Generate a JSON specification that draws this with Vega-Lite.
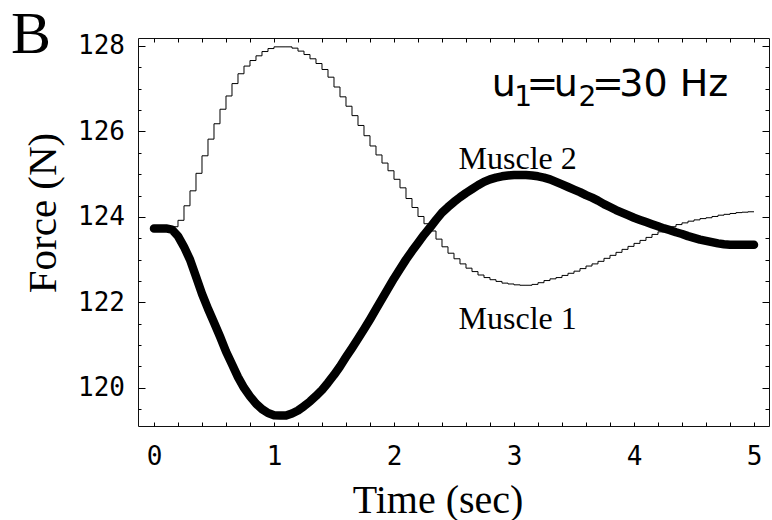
{
  "$schema": "https://vega.github.io/schema/vega-lite/v6.json",
  "width": 631,
  "height": 388,
  "autosize": {"type": "none"},
  "padding": {"left": 138, "top": 38, "right": 3, "bottom": 94},
  "background": "white",
  "config": {
    "view": {"stroke": "#111111", "strokeWidth": 1},
    "axis": {
      "domain": false,
      "grid": false,
      "tickColor": "black",
      "tickWidth": 1,
      "labelFont": "DejaVu Sans Mono",
      "labelFontSize": 26,
      "labelColor": "black",
      "labelFlush": false,
      "labelOverlap": false,
      "titleFont": "Liberation Serif",
      "titleFontSize": 41,
      "titleFontWeight": "normal",
      "titleColor": "black"
    }
  },
  "data": {
    "values": [
      {"t": 0.00, "m1": 123.75, "m2": 123.73},
      {"t": 0.05, "m1": 123.75, "m2": 123.73},
      {"t": 0.10, "m1": 123.75, "m2": 123.73},
      {"t": 0.15, "m1": 123.77, "m2": 123.70},
      {"t": 0.20, "m1": 123.92, "m2": 123.55},
      {"t": 0.25, "m1": 124.26, "m2": 123.30},
      {"t": 0.30, "m1": 124.61, "m2": 123.00},
      {"t": 0.35, "m1": 125.02, "m2": 122.60},
      {"t": 0.40, "m1": 125.43, "m2": 122.20},
      {"t": 0.45, "m1": 125.82, "m2": 121.85},
      {"t": 0.50, "m1": 126.18, "m2": 121.53},
      {"t": 0.55, "m1": 126.52, "m2": 121.20},
      {"t": 0.60, "m1": 126.83, "m2": 120.85},
      {"t": 0.65, "m1": 127.12, "m2": 120.55},
      {"t": 0.70, "m1": 127.35, "m2": 120.25},
      {"t": 0.75, "m1": 127.53, "m2": 120.00},
      {"t": 0.80, "m1": 127.66, "m2": 119.80},
      {"t": 0.85, "m1": 127.77, "m2": 119.63},
      {"t": 0.90, "m1": 127.87, "m2": 119.50},
      {"t": 0.95, "m1": 127.94, "m2": 119.41},
      {"t": 1.00, "m1": 127.98, "m2": 119.36},
      {"t": 1.05, "m1": 127.98, "m2": 119.35},
      {"t": 1.10, "m1": 127.98, "m2": 119.35},
      {"t": 1.15, "m1": 127.95, "m2": 119.40},
      {"t": 1.20, "m1": 127.88, "m2": 119.47},
      {"t": 1.25, "m1": 127.80, "m2": 119.57},
      {"t": 1.30, "m1": 127.70, "m2": 119.68},
      {"t": 1.35, "m1": 127.59, "m2": 119.81},
      {"t": 1.40, "m1": 127.45, "m2": 119.95},
      {"t": 1.45, "m1": 127.27, "m2": 120.12},
      {"t": 1.50, "m1": 127.04, "m2": 120.30},
      {"t": 1.55, "m1": 126.81, "m2": 120.50},
      {"t": 1.60, "m1": 126.59, "m2": 120.72},
      {"t": 1.65, "m1": 126.37, "m2": 120.93},
      {"t": 1.70, "m1": 126.14, "m2": 121.15},
      {"t": 1.75, "m1": 125.90, "m2": 121.37},
      {"t": 1.80, "m1": 125.66, "m2": 121.60},
      {"t": 1.85, "m1": 125.45, "m2": 121.84},
      {"t": 1.90, "m1": 125.26, "m2": 122.08},
      {"t": 1.95, "m1": 125.08, "m2": 122.32},
      {"t": 2.00, "m1": 124.88, "m2": 122.56},
      {"t": 2.05, "m1": 124.68, "m2": 122.78},
      {"t": 2.10, "m1": 124.43, "m2": 123.00},
      {"t": 2.15, "m1": 124.22, "m2": 123.20},
      {"t": 2.20, "m1": 124.01, "m2": 123.39},
      {"t": 2.25, "m1": 123.84, "m2": 123.58},
      {"t": 2.30, "m1": 123.67, "m2": 123.75},
      {"t": 2.35, "m1": 123.48, "m2": 123.93},
      {"t": 2.40, "m1": 123.30, "m2": 124.10},
      {"t": 2.45, "m1": 123.15, "m2": 124.23},
      {"t": 2.50, "m1": 123.02, "m2": 124.35},
      {"t": 2.55, "m1": 122.90, "m2": 124.46},
      {"t": 2.60, "m1": 122.80, "m2": 124.56},
      {"t": 2.65, "m1": 122.72, "m2": 124.65},
      {"t": 2.70, "m1": 122.64, "m2": 124.74},
      {"t": 2.75, "m1": 122.58, "m2": 124.82},
      {"t": 2.80, "m1": 122.53, "m2": 124.88},
      {"t": 2.85, "m1": 122.49, "m2": 124.92},
      {"t": 2.90, "m1": 122.45, "m2": 124.95},
      {"t": 2.95, "m1": 122.43, "m2": 124.97},
      {"t": 3.00, "m1": 122.41, "m2": 124.98},
      {"t": 3.05, "m1": 122.40, "m2": 124.98},
      {"t": 3.10, "m1": 122.40, "m2": 124.98},
      {"t": 3.15, "m1": 122.42, "m2": 124.97},
      {"t": 3.20, "m1": 122.46, "m2": 124.95},
      {"t": 3.25, "m1": 122.51, "m2": 124.92},
      {"t": 3.30, "m1": 122.55, "m2": 124.88},
      {"t": 3.35, "m1": 122.58, "m2": 124.82},
      {"t": 3.40, "m1": 122.63, "m2": 124.76},
      {"t": 3.45, "m1": 122.68, "m2": 124.70},
      {"t": 3.50, "m1": 122.73, "m2": 124.64},
      {"t": 3.55, "m1": 122.79, "m2": 124.58},
      {"t": 3.60, "m1": 122.85, "m2": 124.51},
      {"t": 3.65, "m1": 122.90, "m2": 124.45},
      {"t": 3.70, "m1": 122.96, "m2": 124.38},
      {"t": 3.75, "m1": 123.03, "m2": 124.30},
      {"t": 3.80, "m1": 123.10, "m2": 124.23},
      {"t": 3.85, "m1": 123.17, "m2": 124.16},
      {"t": 3.90, "m1": 123.24, "m2": 124.10},
      {"t": 3.95, "m1": 123.31, "m2": 124.04},
      {"t": 4.00, "m1": 123.38, "m2": 123.98},
      {"t": 4.05, "m1": 123.45, "m2": 123.93},
      {"t": 4.10, "m1": 123.52, "m2": 123.88},
      {"t": 4.15, "m1": 123.59, "m2": 123.83},
      {"t": 4.20, "m1": 123.65, "m2": 123.78},
      {"t": 4.25, "m1": 123.71, "m2": 123.73},
      {"t": 4.30, "m1": 123.77, "m2": 123.69},
      {"t": 4.35, "m1": 123.82, "m2": 123.64},
      {"t": 4.40, "m1": 123.86, "m2": 123.60},
      {"t": 4.45, "m1": 123.90, "m2": 123.55},
      {"t": 4.50, "m1": 123.93, "m2": 123.51},
      {"t": 4.55, "m1": 123.96, "m2": 123.47},
      {"t": 4.60, "m1": 123.98, "m2": 123.44},
      {"t": 4.65, "m1": 124.01, "m2": 123.41},
      {"t": 4.70, "m1": 124.04, "m2": 123.38},
      {"t": 4.75, "m1": 124.06, "m2": 123.36},
      {"t": 4.80, "m1": 124.08, "m2": 123.35},
      {"t": 4.85, "m1": 124.10, "m2": 123.35},
      {"t": 4.90, "m1": 124.11, "m2": 123.35},
      {"t": 4.95, "m1": 124.12, "m2": 123.35},
      {"t": 5.00, "m1": 124.12, "m2": 123.35}
    ]
  },
  "layer": [
    {
      "mark": {"type": "line", "interpolate": "step-after", "color": "black", "strokeWidth": 1},
      "encoding": {
        "x": {
          "field": "t", "type": "quantitative",
          "scale": {"domain": [-0.1333, 5.125], "nice": false, "zero": false},
          "axis": {
            "orient": "bottom",
            "values": [0,0.2,0.4,0.6,0.8,1,1.2,1.4,1.6,1.8,2,2.2,2.4,2.6,2.8,3,3.2,3.4,3.6,3.8,4,4.2,4.4,4.6,4.8,5],
            "tickSize": -4,
            "labelExpr": "datum.value % 1 === 0 ? format(datum.value, 'd') : ''",
            "labelPadding": 21.4,
            "title": "Time (sec)",
            "titleFontSize": 40,
            "titleX": 299.5,
            "titleY": 86,
            "titleAlign": "center",
            "titleBaseline": "alphabetic"
          }
        },
        "y": {
          "field": "m1", "type": "quantitative",
          "scale": {"domain": [119.106, 128.187], "nice": false, "zero": false},
          "axis": {
            "orient": "left",
            "values": [119.5,120,120.5,121,121.5,122,122.5,123,123.5,124,124.5,125,125.5,126,126.5,127,127.5,128],
            "tickSize": {"condition": {"test": "datum.value % 2 === 0", "value": -7}, "value": -3},
            "labelExpr": "datum.value % 2 === 0 ? format(datum.value, 'd') : ''",
            "labelPadding": 20.5,
            "title": "Force (N)",
            "titleAngle": -90,
            "titleX": -83,
            "titleY": 174.5,
            "titleAlign": "center",
            "titleBaseline": "alphabetic"
          }
        }
      }
    },
    {
      "mark": {"type": "line", "color": "black", "strokeWidth": 8.5, "strokeCap": "round", "strokeJoin": "round"},
      "encoding": {
        "x": {
          "field": "t", "type": "quantitative",
          "scale": {"domain": [-0.1333, 5.125], "nice": false, "zero": false},
          "axis": {
            "orient": "top",
            "values": [0,0.2,0.4,0.6,0.8,1,1.2,1.4,1.6,1.8,2,2.2,2.4,2.6,2.8,3,3.2,3.4,3.6,3.8,4,4.2,4.4,4.6,4.8,5],
            "tickSize": -4,
            "labels": false,
            "title": null
          }
        },
        "y": {
          "field": "m2", "type": "quantitative",
          "scale": {"domain": [119.106, 128.187], "nice": false, "zero": false},
          "axis": {
            "orient": "right",
            "values": [119.5,120,120.5,121,121.5,122,122.5,123,123.5,124,124.5,125,125.5,126,126.5,127,127.5,128],
            "tickSize": {"condition": {"test": "datum.value % 2 === 0", "value": -7}, "value": -4},
            "labels": false,
            "title": null
          }
        }
      }
    },
    {
      "data": {"values": [{}]},
      "mark": {"type": "text", "text": "Muscle 2", "font": "Liberation Serif", "fontSize": 32, "align": "left", "baseline": "alphabetic", "color": "black"},
      "encoding": {
        "x": {"datum": 2.538, "type": "quantitative", "scale": {"domain": [-0.1333, 5.125], "nice": false, "zero": false}, "axis": null},
        "y": {"datum": 125.127, "type": "quantitative", "scale": {"domain": [119.106, 128.187], "nice": false, "zero": false}, "axis": null}
      }
    },
    {
      "data": {"values": [{}]},
      "mark": {"type": "text", "text": "Muscle 1", "font": "Liberation Serif", "fontSize": 32, "align": "left", "baseline": "alphabetic", "color": "black"},
      "encoding": {
        "x": {"datum": 2.538, "type": "quantitative", "scale": {"domain": [-0.1333, 5.125], "nice": false, "zero": false}, "axis": null},
        "y": {"datum": 121.385, "type": "quantitative", "scale": {"domain": [119.106, 128.187], "nice": false, "zero": false}, "axis": null}
      }
    },
    {
      "data": {"values": [{}]},
      "mark": {"type": "text", "text": "B", "font": "Liberation Serif", "fontSize": 60, "align": "left", "baseline": "alphabetic", "color": "black"},
      "encoding": {
        "x": {"datum": -1.1917, "type": "quantitative", "scale": {"domain": [-0.1333, 5.125], "nice": false, "zero": false}, "axis": null},
        "y": {"datum": 127.825, "type": "quantitative", "scale": {"domain": [119.106, 128.187], "nice": false, "zero": false}, "axis": null}
      }
    },
    {
      "data": {"values": [{}]},
      "mark": {"type": "text", "text": "u", "font": "DejaVu Sans", "fontSize": 38, "align": "left", "baseline": "alphabetic", "color": "black"},
      "encoding": {
        "x": {"datum": 2.815, "type": "quantitative", "scale": {"domain": [-0.1333, 5.125], "nice": false, "zero": false}, "axis": null},
        "y": {"datum": 126.819, "type": "quantitative", "scale": {"domain": [119.106, 128.187], "nice": false, "zero": false}, "axis": null}
      }
    },
    {
      "data": {"values": [{}]},
      "mark": {"type": "text", "text": "1", "font": "DejaVu Sans", "fontSize": 28, "align": "left", "baseline": "alphabetic", "color": "black"},
      "encoding": {
        "x": {"datum": 3.003, "type": "quantitative", "scale": {"domain": [-0.1333, 5.125], "nice": false, "zero": false}, "axis": null},
        "y": {"datum": 126.596, "type": "quantitative", "scale": {"domain": [119.106, 128.187], "nice": false, "zero": false}, "axis": null}
      }
    },
    {
      "data": {"values": [{}]},
      "mark": {"type": "text", "text": "=", "font": "DejaVu Sans", "fontSize": 38, "align": "left", "baseline": "alphabetic", "color": "black"},
      "encoding": {
        "x": {"datum": 3.105, "type": "quantitative", "scale": {"domain": [-0.1333, 5.125], "nice": false, "zero": false}, "axis": null},
        "y": {"datum": 126.819, "type": "quantitative", "scale": {"domain": [119.106, 128.187], "nice": false, "zero": false}, "axis": null}
      }
    },
    {
      "data": {"values": [{}]},
      "mark": {"type": "text", "text": "u", "font": "DejaVu Sans", "fontSize": 38, "align": "left", "baseline": "alphabetic", "color": "black"},
      "encoding": {
        "x": {"datum": 3.332, "type": "quantitative", "scale": {"domain": [-0.1333, 5.125], "nice": false, "zero": false}, "axis": null},
        "y": {"datum": 126.819, "type": "quantitative", "scale": {"domain": [119.106, 128.187], "nice": false, "zero": false}, "axis": null}
      }
    },
    {
      "data": {"values": [{}]},
      "mark": {"type": "text", "text": "2", "font": "DejaVu Sans", "fontSize": 28, "align": "left", "baseline": "alphabetic", "color": "black"},
      "encoding": {
        "x": {"datum": 3.5375, "type": "quantitative", "scale": {"domain": [-0.1333, 5.125], "nice": false, "zero": false}, "axis": null},
        "y": {"datum": 126.596, "type": "quantitative", "scale": {"domain": [119.106, 128.187], "nice": false, "zero": false}, "axis": null}
      }
    },
    {
      "data": {"values": [{}]},
      "mark": {"type": "text", "text": "=", "font": "DejaVu Sans", "fontSize": 38, "align": "left", "baseline": "alphabetic", "color": "black"},
      "encoding": {
        "x": {"datum": 3.651, "type": "quantitative", "scale": {"domain": [-0.1333, 5.125], "nice": false, "zero": false}, "axis": null},
        "y": {"datum": 126.819, "type": "quantitative", "scale": {"domain": [119.106, 128.187], "nice": false, "zero": false}, "axis": null}
      }
    },
    {
      "data": {"values": [{}]},
      "mark": {"type": "text", "text": "30 Hz", "font": "DejaVu Sans", "fontSize": 38, "align": "left", "baseline": "alphabetic", "color": "black"},
      "encoding": {
        "x": {"datum": 3.877, "type": "quantitative", "scale": {"domain": [-0.1333, 5.125], "nice": false, "zero": false}, "axis": null},
        "y": {"datum": 126.819, "type": "quantitative", "scale": {"domain": [119.106, 128.187], "nice": false, "zero": false}, "axis": null}
      }
    }
  ],
  "resolve": {"axis": {"x": "independent", "y": "independent"}}
}
